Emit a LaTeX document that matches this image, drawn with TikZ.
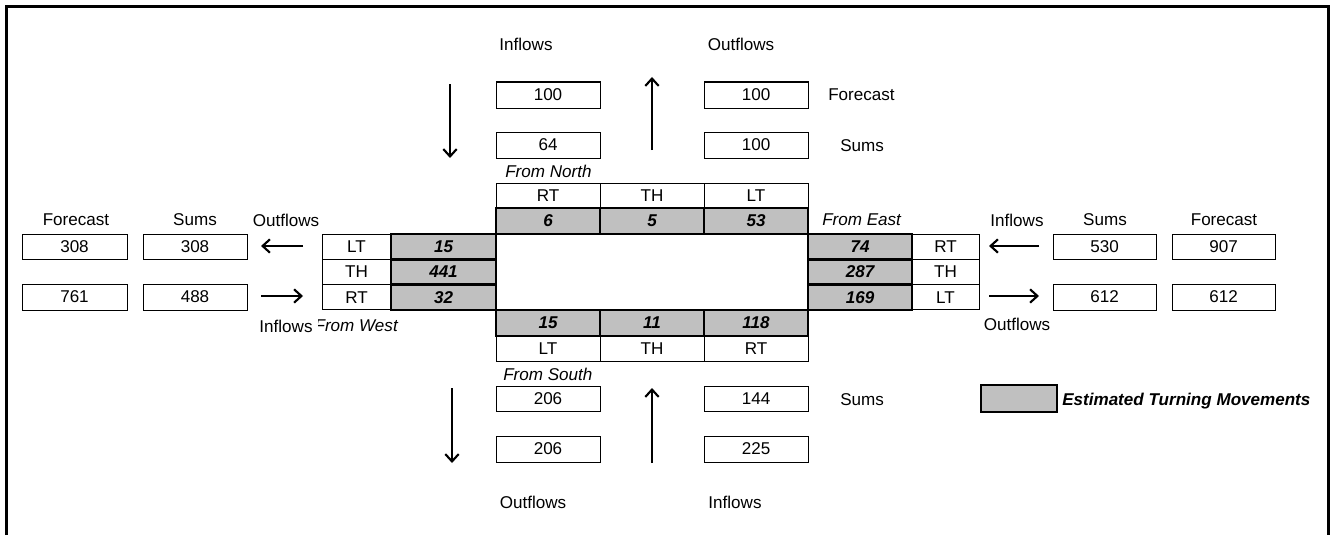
\documentclass[tikz,border=0pt]{standalone}
\usepackage{fontspec}
\setmainfont{Liberation Sans}
\usetikzlibrary{arrows.meta}
\definecolor{cellgray}{RGB}{192,192,192}
\newcommand{\fsz}{\fontsize{12.8}{14}\selectfont}
\tikzset{
  every node/.style={font=\fsz, text depth=0pt, inner sep=0pt},
  box/.style 2 args={draw=black, line width=0.75pt, minimum width=#1*0.75pt, minimum height=#2*0.75pt},
  est/.style 2 args={box={#1}{#2}, fill=cellgray, line width=2pt, font=\fsz\bfseries\itshape},
  lbl/.style={font=\fsz},
  dir/.style={font=\fsz\itshape},
  flow/.style={line width=1.6pt, -{Straight Barb[length=5.5pt,width=10pt]}},
  frame/.style={line width=2pt}
}
\begin{document}
\begin{tikzpicture}[x=0.75pt,y=-0.75pt]
\useasboundingbox (0,0) rectangle (1330,535);
\draw[frame] (6.5,535) -- (6.5,6.5) -- (1328.5,6.5) -- (1328.5,535);

% ---------- North ----------
\node[lbl] (nInL) at (526,44) {Inflows};
\node[lbl] (nOutL) at (741,44) {Outflows};
\node[box={104}{26}] (nInF) at (548,95) {100};
\node[box={104}{26}] (nOutF) at (756,95) {100};
\node[box={104}{26}] (nInS) at (548,145) {64};
\node[box={104}{26}] (nOutS) at (756,145) {100};
\node[lbl,anchor=west] (nFcL) at (828,95) {Forecast};
\node[lbl,anchor=west] (nSumL) at (840,146) {Sums};
\node[dir,anchor=west] (nDir) at (505,171) {From North};
\node[box={104}{25}] (nRT) at (548,195.5) {RT};
\node[box={104}{25}] (nTH) at (652,195.5) {TH};
\node[box={104}{25}] (nLT) at (756,195.5) {LT};
\node[est={104}{26}] (nRTv) at (548,221) {6};
\node[est={104}{26}] (nTHv) at (652,221) {5};
\node[est={104}{26}] (nLTv) at (756,221) {53};
\coordinate (nDa) at (450,84); \coordinate (nDb) at (450,158);
\coordinate (nUa) at (652,150); \coordinate (nUb) at (652,77);
\draw[flow] (nDa) -- (nDb);
\draw[flow] (nUa) -- (nUb);

% ---------- Center ----------
\node[draw, line width=2pt, minimum width=312*0.75pt, minimum height=76*0.75pt] (ctr) at (652,272) {};

% ---------- West ----------
\node[lbl] (wFcL) at (76,220) {Forecast};
\node[lbl] (wSumL) at (195,220) {Sums};
\node[lbl] (wOutL) at (286,220) {Outflows};
\node[lbl] (wInL) at (286,326) {Inflows};
\begin{scope}
\clip (318,312) rectangle (420,345);
\node[dir,anchor=east] (wDir) at (398,326) {From West};
\end{scope}
\node[box={105}{25}] (wOutF) at (74.5,246.5) {308};
\node[box={104}{25}] (wOutS) at (195,246.5) {308};
\node[box={105}{26}] (wInF) at (74.5,297) {761};
\node[box={104}{26}] (wInS) at (195,297) {488};
\node[box={69}{25.3}] (wLT) at (356.5,246.7) {LT};
\node[box={69}{25.3}] (wTH) at (356.5,272) {TH};
\node[box={69}{25.3}] (wRT) at (356.5,297.3) {RT};
\node[est={105}{25.3}] (wLTv) at (443.5,246.7) {15};
\node[est={105}{25.3}] (wTHv) at (443.5,272) {441};
\node[est={105}{25.3}] (wRTv) at (443.5,297.3) {32};
\coordinate (wOa) at (303,246); \coordinate (wOb) at (261,246);
\coordinate (wIa) at (261,296); \coordinate (wIb) at (303,296);
\draw[flow] (wOa) -- (wOb);
\draw[flow] (wIa) -- (wIb);

% ---------- East ----------
\node[dir,anchor=west] (eDir) at (822,220) {From East};
\node[lbl] (eInL) at (1017,220) {Inflows};
\node[lbl] (eSumL) at (1105,220) {Sums};
\node[lbl] (eFcL) at (1224,220) {Forecast};
\node[lbl] (eOutL) at (1017,324) {Outflows};
\node[est={104}{25.3}] (eRTv) at (860,246.7) {74};
\node[est={104}{25.3}] (eTHv) at (860,272) {287};
\node[est={104}{25.3}] (eLTv) at (860,297.3) {169};
\node[box={67}{25.3}] (eRT) at (945.5,246.7) {RT};
\node[box={67}{25.3}] (eTH) at (945.5,272) {TH};
\node[box={67}{25.3}] (eLT) at (945.5,297.3) {LT};
\node[box={103}{25}] (eInS) at (1104.5,246.5) {530};
\node[box={103}{25}] (eInF) at (1223.5,246.5) {907};
\node[box={103}{26}] (eOutS) at (1104.5,297) {612};
\node[box={103}{26}] (eOutF) at (1223.5,297) {612};
\coordinate (eIa) at (1039,246); \coordinate (eIb) at (989,246);
\coordinate (eOa) at (989,296); \coordinate (eOb) at (1039,296);
\draw[flow] (eIa) -- (eIb);
\draw[flow] (eOa) -- (eOb);

% ---------- South ----------
\node[est={104}{26}] (sLTv) at (548,323) {15};
\node[est={104}{26}] (sTHv) at (652,323) {11};
\node[est={104}{26}] (sRTv) at (756,323) {118};
\node[box={104}{25}] (sLT) at (548,348.5) {LT};
\node[box={104}{25}] (sTH) at (652,348.5) {TH};
\node[box={104}{25}] (sRT) at (756,348.5) {RT};
\node[dir,anchor=west] (sDir) at (503,374) {From South};
\node[box={104}{25}] (sOutS) at (548,398.5) {206};
\node[box={104}{25}] (sInS) at (756,398.5) {144};
\node[box={104}{26}] (sOutF) at (548,449) {206};
\node[box={104}{26}] (sInF) at (756,449) {225};
\node[lbl,anchor=west] (sSumL) at (840,400) {Sums};
\node[lbl] (sOutL) at (533,502) {Outflows};
\node[lbl] (sInL) at (735,502) {Inflows};
\coordinate (sDa) at (452,388); \coordinate (sDb) at (452,463);
\coordinate (sUa) at (652,463); \coordinate (sUb) at (652,388);
\draw[flow] (sDa) -- (sDb);
\draw[flow] (sUa) -- (sUb);

% ---------- Legend ----------
\node[draw, line width=2pt, fill=cellgray, minimum width=76*0.75pt, minimum height=27*0.75pt] (leg) at (1019,398.5) {};
\node[anchor=west, font=\fsz\bfseries\itshape] (legT) at (1062,399) {Estimated Turning Movements};
\end{tikzpicture}
\end{document}
